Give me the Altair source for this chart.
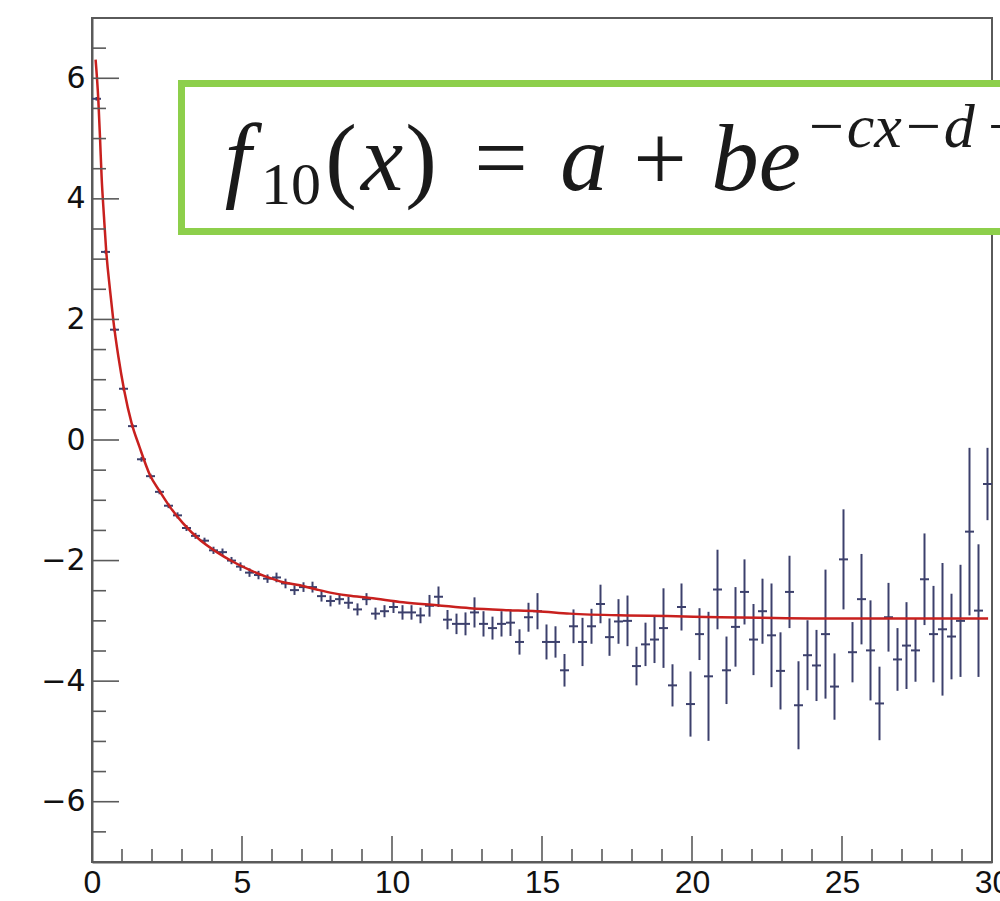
import altair as alt
import pandas as pd

# ---------------- data ----------------
BIN_CENTERS = [round(0.15 + 0.3 * i, 2) for i in range(100)]
BIN_HALF = 0.15

values = [
    5.66, 3.12, 1.83, 0.85, 0.23, -0.32, -0.60, -0.86, -1.09, -1.25,
    -1.46, -1.59, -1.67, -1.83, -1.86, -2.00, -2.10, -2.20, -2.24, -2.30,
    -2.28, -2.38, -2.49, -2.44, -2.44, -2.59, -2.67, -2.64, -2.70, -2.81,
    -2.64, -2.88, -2.84, -2.77, -2.86, -2.86, -2.91, -2.75, -2.60, -2.98,
    -3.05, -3.05, -2.86, -3.05, -3.12, -3.05, -3.03, -3.35, -2.94, -2.84,
    -3.35, -3.35, -3.82, -3.09, -3.35, -3.09, -2.72, -3.27, -3.01, -3.00,
    -3.75, -3.39, -3.31, -3.12, -4.07, -2.77, -4.38, -3.22, -3.92, -2.48,
    -3.82, -3.10, -2.52, -3.31, -2.84, -3.24, -3.83, -2.52, -4.40, -3.57,
    -3.74, -3.22, -4.09, -1.98, -3.52, -2.64, -3.49, -4.37, -2.94, -3.64,
    -3.41, -3.49, -2.31, -3.22, -3.14, -3.26, -3.00, -1.52, -2.83, -0.73,
]

errors = [
    0.03, 0.03, 0.03, 0.03, 0.03, 0.04, 0.04, 0.04, 0.04, 0.05,
    0.05, 0.05, 0.05, 0.06, 0.06, 0.06, 0.07, 0.07, 0.07, 0.07,
    0.08, 0.08, 0.08, 0.08, 0.09, 0.09, 0.09, 0.09, 0.10, 0.10,
    0.10, 0.10, 0.10, 0.10, 0.12, 0.12, 0.13, 0.18, 0.17, 0.16,
    0.17, 0.19, 0.25, 0.21, 0.19, 0.21, 0.22, 0.21, 0.24, 0.30,
    0.29, 0.26, 0.27, 0.28, 0.40, 0.29, 0.32, 0.31, 0.37, 0.42,
    0.32, 0.36, 0.39, 0.66, 0.35, 0.39, 0.54, 0.43, 1.07, 0.66,
    0.56, 0.66, 0.54, 0.59, 0.54, 0.86, 0.64, 0.60, 0.73, 0.58,
    0.59, 1.07, 0.55, 0.83, 0.50, 0.75, 0.83, 0.61, 0.57, 0.52,
    0.72, 0.52, 0.76, 0.80, 1.10, 0.71, 0.93, 1.39, 1.10, 0.60,
]

fit_x = [0.12, 0.21, 0.27, 0.32, 0.40, 0.47, 0.60, 0.71, 0.88, 1.07,
         1.32, 1.58, 1.93, 2.27, 2.60, 3.03, 3.60, 4.16, 4.70, 5.27,
         5.82, 6.37, 6.93, 7.49, 8.03, 8.53, 9.27, 10.37, 11.50, 12.60,
         13.70, 14.83, 15.93, 17.83, 19.17, 20.93, 22.27, 24.00, 29.87]
fit_y = [6.31, 5.65, 4.98, 4.37, 3.70, 3.16, 2.49, 1.99, 1.38, 0.83,
         0.28, -0.11, -0.58, -0.86, -1.11, -1.38, -1.66, -1.86, -2.02, -2.16,
         -2.27, -2.36, -2.41, -2.48, -2.54, -2.58, -2.62, -2.69, -2.74, -2.79,
         -2.82, -2.84, -2.88, -2.91, -2.92, -2.94, -2.95, -2.96, -2.96]

x_ticks_major = [0, 5, 10, 15, 20, 25, 30]
x_ticks_minor = [v for v in range(0, 31) if v % 5 != 0]
y_ticks_major = [-6, -4, -2, 0, 2, 4, 6]
y_ticks_minor = [v / 2 for v in range(-13, 14) if v % 4 != 0]

# ---------------- styling ----------------
W, H = 900, 844
NAVY = "#3c406c"
RED = "#c8201e"
GREEN = "#8dcf4b"
AXIS_GRAY = "#5a5a5a"
XS = alt.Scale(domain=[0, 30], nice=False, zero=False)
YS = alt.Scale(domain=[-7, 7], nice=False, zero=False)
AX_COMMON = dict(labelColor="#111111",
                 labelFlush=False, labelOverlap=False, labelBound=False,
                 domainColor=AXIS_GRAY, domainWidth=2, ticks=False, grid=False,
                 format="d", title=None)
XA = alt.Axis(values=x_ticks_major, labelPadding=5, labelFont="Liberation Sans",
              labelFontSize=32, **AX_COMMON)
YA = alt.Axis(values=y_ticks_major, labelPadding=7, labelFont="DejaVu Sans",
              labelFontSize=30, **AX_COMMON)

pts = pd.DataFrame({"x": BIN_CENTERS, "y": values, "e": errors})
pts["lo"] = pts["y"] - pts["e"]
pts["hi"] = pts["y"] + pts["e"]
pts["xl"] = pts["x"] - BIN_HALF
pts["xr"] = pts["x"] + BIN_HALF

fit = pd.DataFrame({"x": fit_x, "y": fit_y})

vbars = alt.Chart(pts).mark_rule(color=NAVY, strokeWidth=2).encode(
    x=alt.X("x:Q", scale=XS, axis=XA, title=None),
    y=alt.Y("lo:Q", scale=YS, axis=YA, title=None),
    y2="hi:Q",
)
hbars = alt.Chart(pts).mark_rule(color=NAVY, strokeWidth=2).encode(
    x=alt.X("xl:Q", scale=XS, axis=XA, title=None),
    x2="xr:Q",
    y=alt.Y("y:Q", scale=YS, axis=YA, title=None),
)
curve = alt.Chart(fit).mark_line(color=RED, strokeWidth=2.5, interpolate="monotone").encode(
    x=alt.X("x:Q", scale=XS, axis=XA, title=None),
    y=alt.Y("y:Q", scale=YS, axis=YA, title=None),
)

def yticks(vals, length):
    return alt.Chart(pd.DataFrame({"v": vals})).mark_rule(color=AXIS_GRAY, strokeWidth=1.6).encode(
        y=alt.Y("v:Q", scale=YS, axis=YA, title=None), x=alt.value(0), x2=alt.value(length))

def xticks(vals, length):
    return alt.Chart(pd.DataFrame({"v": vals})).mark_rule(color=AXIS_GRAY, strokeWidth=1.6).encode(
        x=alt.X("v:Q", scale=XS, axis=XA, title=None), y=alt.value(H), y2=alt.value(H - length))

one = alt.Data(values=[{"k": 1}])

box = alt.Chart(one).mark_rect(fill="white", stroke=GREEN, strokeWidth=7).encode(
    x=alt.value(178 - 92 + 3.5), x2=alt.value(1030 - 92),
    y=alt.value(80 - 18 + 3.5), y2=alt.value(235 - 18 - 3.5),
)

def glyph(t, x, base, size, italic, align="center"):
    return alt.Chart(one).mark_text(
        text=t, font="Liberation Serif", fontSize=size,
        fontStyle="italic" if italic else "normal",
        align=align, baseline="alphabetic", color="#1a1a1a",
    ).encode(x=alt.value(x - 92), y=alt.value(base - 18))

MAIN = 95
glyphs = [
    glyph("f", 238, 190, MAIN, True),
    glyph("10", 291, 204, 60, False),
    glyph("(", 341, 190, MAIN, False),
    glyph("x", 382, 190, MAIN, True),
    glyph(")", 421, 190, MAIN, False),
    glyph("=", 501, 190, MAIN, False),
    glyph("a", 584, 190, MAIN, True),
    glyph("+", 660, 190, MAIN, False),
    glyph("be", 756, 190, MAIN, True),
    glyph("\u2212cx\u2212d", 805, 147, 62, True, align="left"),
    glyph("+", 988, 147, 62, False, align="left"),
]

chart = alt.layer(
    vbars, hbars, curve,
    yticks(y_ticks_major, 27), yticks(y_ticks_minor, 14),
    xticks(x_ticks_major, 26), xticks(x_ticks_minor, 13),
    box, *glyphs,
).properties(
    width=W, height=H,
    autosize=alt.AutoSizeParams(type="none"),
    padding={"left": 92, "top": 18, "right": 8, "bottom": 39},
).configure_view(
    stroke=AXIS_GRAY, strokeWidth=2,
)

chart.save("out.html", embed_options={"renderer": "svg", "actions": False})
